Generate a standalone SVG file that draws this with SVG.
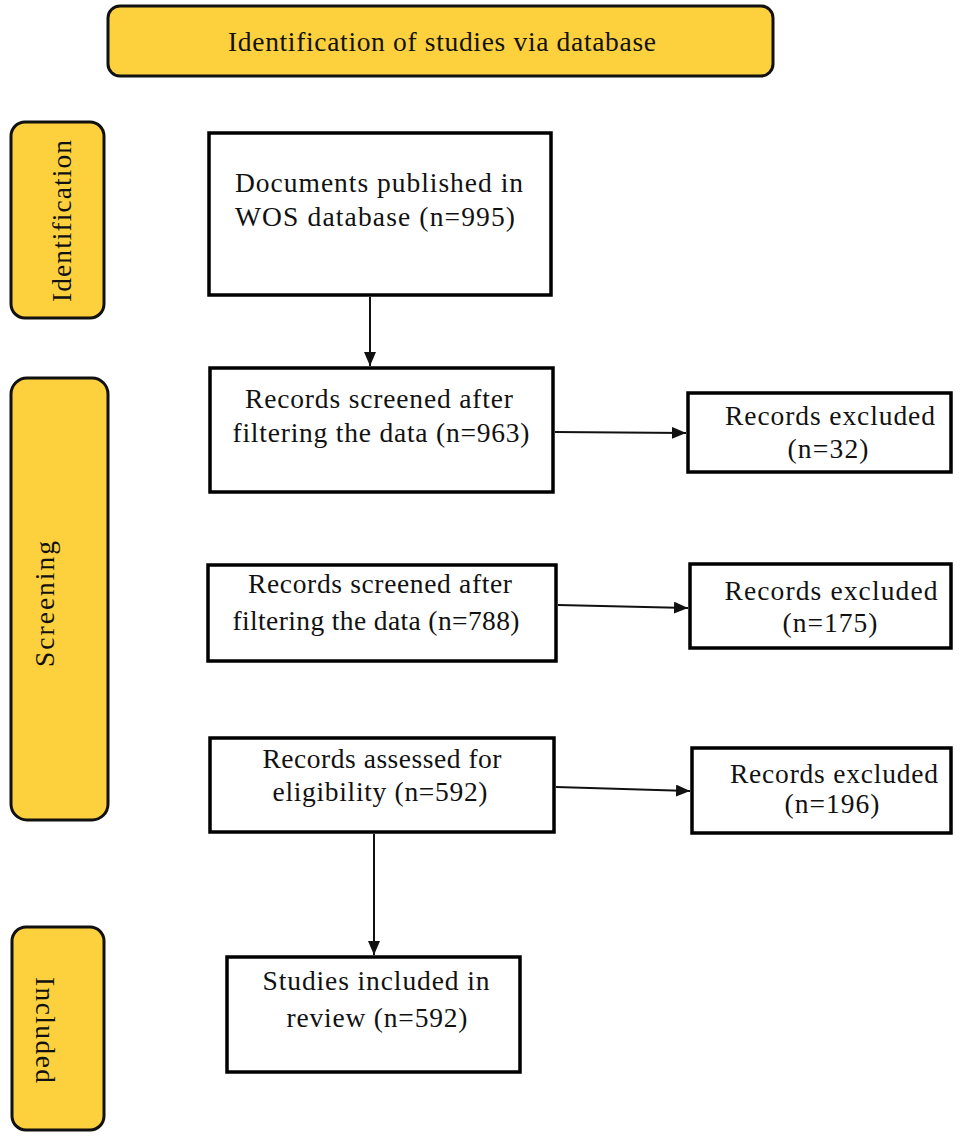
<svg xmlns="http://www.w3.org/2000/svg" width="967" height="1136" viewBox="0 0 967 1136">
<defs>
<style>
.phase{fill:#FDD13D;stroke:#111;stroke-width:3}
.box{fill:#fff;stroke:#000;stroke-width:3.5}
text{font-family:"Liberation Serif","Times New Roman",serif;font-size:27.5px;fill:#111}
.c{text-anchor:middle}
.edge{stroke:#111;stroke-width:2;fill:none;marker-end:url(#arr)}
</style>
<marker id="arr" viewBox="0 0 14 12" refX="14" refY="6" markerWidth="14" markerHeight="12" markerUnits="userSpaceOnUse" orient="auto">
<path d="M0,0 L14,6 L0,12 z" fill="#111"/>
</marker>
</defs>
<rect width="967" height="1136" fill="#fff"/>

<g id="banner">
<rect class="phase" x="108" y="6" width="665" height="70" rx="12"/>
<text class="c" x="442" y="51" textLength="428" lengthAdjust="spacing">Identification of studies via database</text>
</g>

<g id="phase-identification">
<rect class="phase" x="11" y="122" width="93" height="196" rx="14"/>
<text class="c" transform="translate(71,221) rotate(-90)" textLength="162" lengthAdjust="spacing">Identification</text>
</g>

<g id="phase-screening">
<rect class="phase" x="11" y="378" width="97" height="442" rx="16"/>
<text class="c" transform="translate(54,604) rotate(-90)" textLength="126" lengthAdjust="spacing">Screening</text>
</g>

<g id="phase-included">
<rect class="phase" x="12" y="927" width="92" height="203" rx="14"/>
<text class="c" transform="translate(36,1030) rotate(90)" textLength="106" lengthAdjust="spacing">Included</text>
</g>

<g id="documents">
<rect class="box" x="209" y="133" width="342" height="162"/>
<text class="c" x="379" y="192" textLength="288" lengthAdjust="spacing">Documents published in</text>
<text class="c" x="375" y="226" textLength="280" lengthAdjust="spacing">WOS  database (n=995)</text>
</g>

<g id="screened-963">
<rect class="box" x="210" y="368" width="343" height="124"/>
<text class="c" x="379" y="408" textLength="268" lengthAdjust="spacing">Records screened after</text>
<text class="c" x="381" y="442" textLength="297" lengthAdjust="spacing">filtering the data (n=963)</text>
</g>

<g id="screened-788">
<rect class="box" x="208" y="565" width="348" height="96"/>
<text class="c" x="380" y="593" textLength="264" lengthAdjust="spacing">Records screened after</text>
<text class="c" x="376" y="630" textLength="287" lengthAdjust="spacing">filtering the data (n=788)</text>
</g>

<g id="assessed-592">
<rect class="box" x="210" y="738" width="344" height="94"/>
<text class="c" x="382" y="768" textLength="239" lengthAdjust="spacing">Records assessed for</text>
<text class="c" x="380" y="801" textLength="215" lengthAdjust="spacing">eligibility (n=592)</text>
</g>

<g id="included-592">
<rect class="box" x="227" y="957" width="293" height="115"/>
<text class="c" x="376" y="990" textLength="227" lengthAdjust="spacing">Studies included in</text>
<text class="c" x="377" y="1027" textLength="181" lengthAdjust="spacing">review (n=592)</text>
</g>

<g id="excluded-32">
<rect class="box" x="688" y="393" width="263" height="79"/>
<text class="c" x="830" y="425" textLength="210" lengthAdjust="spacing">Records excluded</text>
<text class="c" x="828" y="458" textLength="81" lengthAdjust="spacing">(n=32)</text>
</g>

<g id="excluded-175">
<rect class="box" x="690" y="564" width="261" height="84"/>
<text class="c" x="831" y="600" textLength="213" lengthAdjust="spacing">Records excluded</text>
<text class="c" x="830" y="632" textLength="95" lengthAdjust="spacing">(n=175)</text>
</g>

<g id="excluded-196">
<rect class="box" x="692" y="748" width="259" height="85"/>
<text class="c" x="834" y="783" textLength="208" lengthAdjust="spacing">Records excluded</text>
<text class="c" x="832" y="813" textLength="95" lengthAdjust="spacing">(n=196)</text>
</g>

<g id="connectors">
<line class="edge" x1="370" y1="297" x2="370" y2="366"/>
<line class="edge" x1="555" y1="432" x2="686" y2="433"/>
<line class="edge" x1="558" y1="605" x2="688" y2="608"/>
<line class="edge" x1="556" y1="787" x2="690" y2="791"/>
<line class="edge" x1="374" y1="834" x2="374" y2="955"/>
</g>
</svg>
